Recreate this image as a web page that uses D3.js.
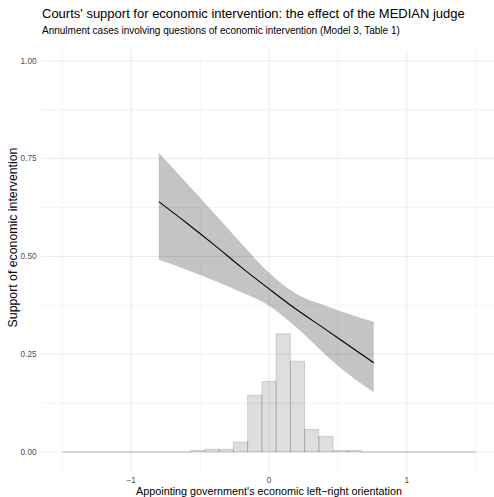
<!DOCTYPE html>
<html>
<head>
<meta charset="utf-8">
<script src="https://cdn.jsdelivr.net/npm/d3@7"></script>
<style>
  html, body { margin: 0; padding: 0; background: #fff; }
  svg { display: block; font-family: "Liberation Sans", Arial, sans-serif; }
</style>
</head>
<body>
<svg id="chart" width="494" height="497"></svg>
<script>
// Predicted probability of support (logit model) across the judge's orientation
const predX     = [-0.80, -0.60, -0.40, -0.20, 0.00, 0.20, 0.40, 0.60, 0.76];
const predFit   = [0.640, 0.586, 0.530, 0.472, 0.417, 0.364, 0.316, 0.267, 0.228];
const predUpper = [0.765, 0.688, 0.611, 0.533, 0.458, 0.404, 0.375, 0.350, 0.333];
const predLower = [0.491, 0.466, 0.438, 0.408, 0.374, 0.318, 0.252, 0.192, 0.153];

// Distribution of the appointing governments' orientation (share of cases per bin)
const histRange = [-1.5, 1.5];
const histShares = [0, 0, 0, 0, 0, 0, 0, 0, 0,
                    0.004, 0.007, 0.007, 0.025, 0.145, 0.180, 0.302, 0.232,
                    0.058, 0.040, 0.004, 0.004,
                    0, 0, 0, 0, 0, 0, 0, 0];

// Axis ticks
const xMajorTicks = [-1, 0, 1];
const xTickLabels = ["\u22121", "0", "1"];
const xMinorTicks = [-1.5, -0.5, 0.5, 1.5];
const yMajorTicks = [0, 0.25, 0.5, 0.75, 1];
const yTickLabels = ["0.00", "0.25", "0.50", "0.75", "1.00"];
const yMinorTicks = [0.125, 0.375, 0.625, 0.875];

const titleText = "Courts' support for economic intervention: the effect of the MEDIAN judge";
const subtitleText = "Annulment cases involving questions of economic intervention (Model 3, Table 1)";
const xTitle = "Appointing government's economic left\u2212right orientation";
const yTitle = "Support of economic intervention";

const svg = d3.select("#chart");

const x = d3.scaleLinear().domain([-1.5, 1.5]).range([62.3, 475.7]);
const y = d3.scaleLinear().domain([0, 1]).range([452, 60.7]);
const panel = { left: 41.6, right: 496.4, top: 50, bottom: 471.7 };

// Grid
const grid = svg.append("g");
grid.selectAll(".ymin").data(yMinorTicks).join("line")
  .attr("x1", panel.left).attr("x2", panel.right)
  .attr("y1", d => y(d)).attr("y2", d => y(d))
  .attr("stroke", "#ececec").attr("stroke-width", 0.6);
grid.selectAll(".xmin").data(xMinorTicks).join("line")
  .attr("y1", panel.top).attr("y2", panel.bottom)
  .attr("x1", d => x(d)).attr("x2", d => x(d))
  .attr("stroke", "#ececec").attr("stroke-width", 0.6);
grid.selectAll(".ymaj").data(yMajorTicks).join("line")
  .attr("x1", panel.left).attr("x2", panel.right)
  .attr("y1", d => y(d)).attr("y2", d => y(d))
  .attr("stroke", "#ebebeb").attr("stroke-width", 1.1);
grid.selectAll(".xmaj").data(xMajorTicks).join("line")
  .attr("y1", panel.top).attr("y2", panel.bottom)
  .attr("x1", d => x(d)).attr("x2", d => x(d))
  .attr("stroke", "#ebebeb").attr("stroke-width", 1.1);

// Histogram (paths, so empty bins still show their outline on the baseline)
const binW = (histRange[1] - histRange[0]) / histShares.length;
const bins = histShares.map((v, i) => ({ x0: histRange[0] + i * binW, x1: histRange[0] + (i + 1) * binW, v }));
svg.append("g").selectAll("path").data(bins).join("path")
  .attr("d", d => `M${x(d.x0)},${y(0)}V${y(d.v)}H${x(d.x1)}V${y(0)}Z`)
  .attr("fill", "#000").attr("fill-opacity", 0.13)
  .attr("stroke", "#000").attr("stroke-opacity", 0.2).attr("stroke-width", 0.7);

// Confidence ribbon and predicted line
const pts = predX.map((v, i) => ({ x: v, fit: predFit[i], lo: predLower[i], hi: predUpper[i] }));
const area = d3.area().x(d => x(d.x)).y0(d => y(d.lo)).y1(d => y(d.hi)).curve(d3.curveMonotoneX);
const line = d3.line().x(d => x(d.x)).y(d => y(d.fit)).curve(d3.curveMonotoneX);
svg.append("path").datum(pts).attr("d", area).attr("fill", "#000").attr("fill-opacity", 0.23);
svg.append("path").datum(pts).attr("d", line).attr("fill", "none").attr("stroke", "#000").attr("stroke-width", 1.1);

// Axis labels
svg.append("g").selectAll("text").data(yMajorTicks).join("text")
  .attr("x", 36.5).attr("y", d => y(d)).attr("dy", "0.35em")
  .attr("text-anchor", "end").attr("font-size", 8.2).attr("fill", "#4d4d4d")
  .text((d, i) => yTickLabels[i]);
svg.append("g").selectAll("text").data(xMajorTicks).join("text")
  .attr("x", d => x(d)).attr("y", 482.5)
  .attr("text-anchor", "middle").attr("font-size", 8.2).attr("fill", "#4d4d4d")
  .text((d, i) => xTickLabels[i]);

svg.append("text").attr("x", x(0)).attr("y", 494.5).attr("text-anchor", "middle")
  .attr("font-size", 10.8).attr("fill", "#000").text(xTitle);
svg.append("text").attr("transform", "translate(16.5,237.5) rotate(-90)").attr("text-anchor", "middle")
  .attr("font-size", 12.3).attr("fill", "#000").text(yTitle);

// Titles
svg.append("text").attr("x", 42).attr("y", 17.5).attr("font-size", 13).attr("fill", "#000").text(titleText);
svg.append("text").attr("x", 42).attr("y", 33.5).attr("font-size", 10).attr("fill", "#000").text(subtitleText);
</script>
</body>
</html>
